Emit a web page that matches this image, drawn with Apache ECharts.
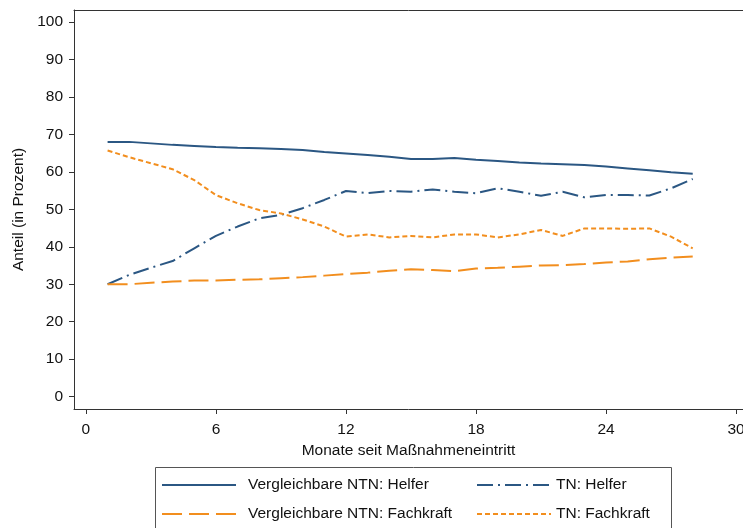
<!DOCTYPE html>
<html>
<head>
<meta charset="utf-8">
<script src="https://cdn.jsdelivr.net/npm/echarts@6/dist/echarts.min.js"></script>
<style>
html,body{margin:0;padding:0;background:#fff;overflow:hidden;}
#chart{width:743px;height:528px;}
</style>
</head>
<body>
<div id="chart"></div>
<script>
var months = [1,2,3,4,5,6,7,8,9,10,11,12,13,14,15,16,17,18,19,20,21,22,23,24,25,26,27,28];
var ntnHelfer = [68.0,68.0,67.6,67.2,66.9,66.6,66.4,66.3,66.1,65.8,65.3,64.9,64.5,64.0,63.4,63.4,63.7,63.2,62.9,62.5,62.2,62.0,61.8,61.4,60.9,60.4,59.9,59.5];
var tnHelfer = [30.0,32.5,34.4,36.2,39.6,42.9,45.4,47.6,48.5,50.3,52.5,54.9,54.3,54.9,54.7,55.3,54.7,54.3,55.6,54.7,53.6,54.7,53.2,53.8,53.8,53.7,55.6,58.1];
var ntnFachkraft = [30.0,30.0,30.4,30.7,31.0,31.0,31.2,31.3,31.6,31.9,32.3,32.7,33.1,33.6,34.0,33.8,33.5,34.2,34.4,34.7,35.0,35.1,35.4,35.8,36.1,36.7,37.1,37.4];
var tnFachkraft = [65.7,63.9,62.3,60.7,57.8,53.8,51.6,49.8,48.9,47.3,45.4,42.7,43.3,42.5,42.9,42.5,43.3,43.3,42.5,43.3,44.5,42.9,44.9,44.9,44.8,44.9,42.7,39.6];
var xTicks = [0,6,12,18,24,30];
var yTicks = [0,10,20,30,40,50,60,70,80,90,100];
var names = ['Vergleichbare NTN: Helfer','TN: Helfer','Vergleichbare NTN: Fachkraft','TN: Fachkraft'];

function pairs(arr){ return months.map(function(m,i){ return [m, arr[i]]; }); }

var blue = '#2b5783';
var orange = '#f28e1e';
var font = 'Liberation Sans, Arial, sans-serif';

var chart = echarts.init(document.getElementById('chart'));
chart.setOption({
  animation:false,
  backgroundColor:'#fff',
  grid:{left:74, right:0, top:10, bottom:119, containLabel:false, outerBoundsMode:'none'},
  xAxis:[{
    type:'value', min:-0.55, max:30.32,
    name:'Monate seit Maßnahmeneintritt', nameLocation:'middle', nameGap:20,
    nameTextStyle:{fontFamily:font, fontSize:15.5, color:'#111'},
    axisLine:{show:true, onZero:false, lineStyle:{color:'#333', width:1}},
    axisTick:{show:true, length:5, customValues:xTicks, lineStyle:{color:'#333'}},
    axisLabel:{customValues:xTicks, margin:13, fontFamily:font, fontSize:15.5, color:'#111'},
    splitLine:{show:false}
  },{
    type:'value', position:'top', min:-0.55, max:30.32,
    axisLine:{show:true, onZero:false, lineStyle:{color:'#333', width:1}},
    axisTick:{show:false}, axisLabel:{show:false}, splitLine:{show:false}
  }],
  yAxis:{
    type:'value', min:-3.3, max:103.2,
    name:'Anteil (in Prozent)', nameLocation:'middle', nameGap:46,
    nameTextStyle:{fontFamily:font, fontSize:15.5, color:'#111'},
    axisLine:{show:true, onZero:false, lineStyle:{color:'#333', width:1}},
    axisTick:{show:true, length:5, customValues:yTicks, lineStyle:{color:'#333'}},
    axisLabel:{customValues:yTicks, margin:11, fontFamily:font, fontSize:15.5, color:'#111'},
    splitLine:{show:false}
  },
  legend:[{
    orient:'vertical', left:161, top:477, padding:0, itemWidth:74, itemHeight:14, itemGap:13,
    data:[names[0], names[2]],
    itemStyle:{opacity:0},
    textStyle:{fontFamily:font, fontSize:15.5, color:'#111', padding:[2,0,0,7]}
  },{
    orient:'vertical', left:476, top:477, padding:0, itemWidth:74, itemHeight:14, itemGap:13,
    data:[names[1], names[3]],
    itemStyle:{opacity:0},
    textStyle:{fontFamily:font, fontSize:15.5, color:'#111', padding:[2,0,0,0]}
  }],
  graphic:[{
    type:'rect', left:153, top:465, silent:true,
    shape:{width:516, height:80},
    style:{fill:'none', stroke:'#555', lineWidth:1}
  }],
  series:[
    {name:names[0], type:'line', symbol:'none', data:pairs(ntnHelfer),
     lineStyle:{color:blue, width:2, type:'solid'}, itemStyle:{color:blue}},
    {name:names[1], type:'line', symbol:'none', data:pairs(tnHelfer),
     lineStyle:{color:blue, width:2, type:[16,5,2,5]}, itemStyle:{color:blue}},
    {name:names[2], type:'line', symbol:'none', data:pairs(ntnFachkraft),
     lineStyle:{color:orange, width:2, type:[20,7]}, itemStyle:{color:orange}},
    {name:names[3], type:'line', symbol:'none', data:pairs(tnFachkraft),
     lineStyle:{color:orange, width:2, type:[5,3]}, itemStyle:{color:orange}}
  ]
});
</script>
</body>
</html>
